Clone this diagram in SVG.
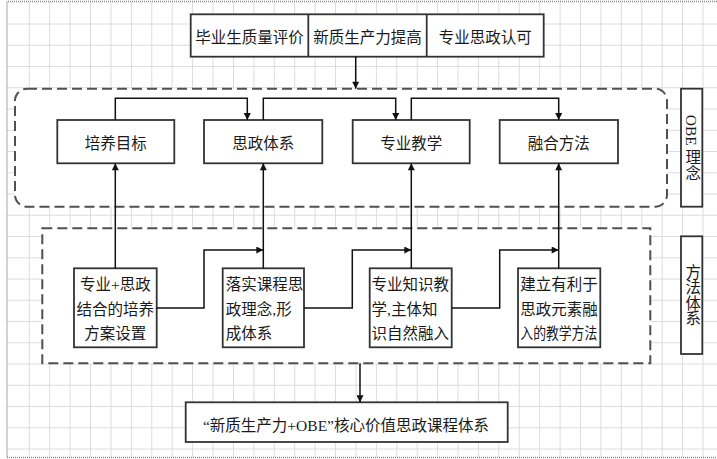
<svg xmlns="http://www.w3.org/2000/svg" width="717" height="459" viewBox="0 0 717 459">
<style>
  .grid { stroke: #dcdcdc; stroke-width: 1; fill: none; }
  .frame { stroke: #8a8a8a; stroke-width: 1.5; stroke-dasharray: 1 1; fill: none; }
  .box { fill: #fff; stroke: #333; stroke-width: 1.8; }
  .dash { fill: #fff; stroke: #505050; stroke-width: 2; stroke-dasharray: 10 5; }
  .conn { fill: none; stroke: #111; stroke-width: 1.5; }
  text { font-family: "Liberation Serif", "Noto Sans CJK SC", serif; font-size: 15.5px; fill: #1a1a1a; }
  .c { text-anchor: middle; }
  .v { writing-mode: vertical-rl; text-anchor: middle; dominant-baseline: central; }
</style>
<defs>
  <marker id="arr" viewBox="0 0 10 10" refX="10" refY="5" markerWidth="9" markerHeight="7" markerUnits="userSpaceOnUse" orient="auto">
    <path d="M0,0 L10,5 L0,10 Z" fill="#111"/>
  </marker>
</defs>
<rect x="0" y="0" width="717" height="459" fill="#fff"/>
<g id="grid">
  <path class="grid" d="M29.3 2V457M49.7 2V457M70.1 2V457M90.5 2V457M111 2V457M131.4 2V457M151.8 2V457M172.2 2V457M192.6 2V457M213 2V457M233.5 2V457M253.9 2V457M274.3 2V457M294.7 2V457M315.1 2V457M335.5 2V457M356 2V457M376.4 2V457M396.8 2V457M417.2 2V457M437.6 2V457M458 2V457M478.4 2V457M498.8 2V457M519.3 2V457M539.7 2V457M560.1 2V457M580.5 2V457M600.9 2V457M621.3 2V457M641.8 2V457M662.2 2V457M682.6 2V457M703 2V457"/>
  <path class="grid" d="M7 24H717M7 45.25H717M7 66.5H717M7 87.75H717M7 109H717M7 130.25H717M7 151.5H717M7 172.75H717M7 194H717M7 215.25H717M7 236.5H717M7 257.75H717M7 279H717M7 300.25H717M7 321.5H717M7 342.75H717M7 364H717M7 385.25H717M7 406.5H717M7 427.75H717M7 449H717"/>
  <path class="frame" d="M717 1.5H7V457.5H717"/>
</g>
<g id="obe-region">
  <rect class="dash" x="15" y="88.7" width="652" height="118" rx="12" ry="12"/>
</g>
<g id="method-region">
  <rect class="dash" x="42.3" y="228.3" width="608" height="135"/>
</g>
<g id="top-box">
  <rect class="box" x="190.7" y="14.3" width="353" height="42.4"/>
  <line class="box" x1="308.3" y1="14.3" x2="308.3" y2="56.7"/>
  <line class="box" x1="426.7" y1="14.3" x2="426.7" y2="56.7"/>
  <text class="c" x="249.5" y="43">毕业生质量评价</text>
  <text class="c" x="367.5" y="43">新质生产力提高</text>
  <text class="c" x="485.2" y="43">专业思政认可</text>
</g>
<g id="n-peiyang">
  <rect class="box" x="57.3" y="120" width="117" height="43.3"/>
  <text class="c" x="115.8" y="148.5">培养目标</text>
</g>
<g id="n-sizheng">
  <rect class="box" x="204" y="120" width="118.3" height="43.3"/>
  <text class="c" x="263.2" y="148.5">思政体系</text>
</g>
<g id="n-zhuanye">
  <rect class="box" x="352.7" y="120" width="117" height="43.3"/>
  <text class="c" x="411.2" y="148.5">专业教学</text>
</g>
<g id="n-ronghe">
  <rect class="box" x="499.7" y="120" width="118.3" height="43.3"/>
  <text class="c" x="558.8" y="148.5">融合方法</text>
</g>
<g id="m1">
  <rect class="box" x="74" y="268.3" width="82.7" height="79"/>
  <text class="c" x="115.3" y="290">专业+思政</text>
  <text class="c" x="115.3" y="314.5">结合的培养</text>
  <text class="c" x="115.3" y="338.5">方案设置</text>
</g>
<g id="m2">
  <rect class="box" x="222.7" y="268.3" width="81.3" height="79"/>
  <text x="225.8" y="290">落实课程思</text>
  <text x="225.8" y="314.5">政理念,形</text>
  <text x="225.8" y="338.5">成体系</text>
</g>
<g id="m3">
  <rect class="box" x="369.7" y="268.3" width="82" height="79"/>
  <text x="371.5" y="290">专业知识教</text>
  <text x="371.5" y="314.5">学,主体知</text>
  <text x="371.5" y="338.5">识自然融入</text>
</g>
<g id="m4">
  <rect class="box" x="518" y="268.3" width="82.3" height="79"/>
  <text x="520.3" y="290">建立有利于</text>
  <text x="520.3" y="314.5">思政元素融</text>
  <text x="520.3" y="338.5" textLength="77" lengthAdjust="spacingAndGlyphs">入的教学方法</text>
</g>
<g id="label-obe">
  <rect class="box" x="681" y="88.7" width="21.3" height="118"/>
  <text class="v" x="691.7" y="147.7">OBE 理念</text>
</g>
<g id="label-method">
  <rect class="box" x="681" y="236.3" width="21.3" height="117.7"/>
  <text class="v" x="691.7" y="295">方法体系</text>
</g>
<g id="result">
  <rect class="box" x="185.7" y="402.3" width="322" height="39.7"/>
  <text class="c" x="346" y="431">“新质生产力+OBE”核心价值思政课程体系</text>
</g>
<g id="connectors">
  <path class="conn" marker-end="url(#arr)" d="M355.7 56.7V88.7"/>
  <path class="conn" marker-end="url(#arr)" d="M115.3 120V98.3H247.3V120"/>
  <path class="conn" marker-end="url(#arr)" d="M263.3 120V98.3H395.7V120"/>
  <path class="conn" marker-end="url(#arr)" d="M411.3 120V98.3H558.7V120"/>
  <path class="conn" marker-end="url(#arr)" d="M115.3 268.3V163.3"/>
  <path class="conn" marker-end="url(#arr)" d="M263.3 268.3V163.3"/>
  <path class="conn" marker-end="url(#arr)" d="M411.3 268.3V163.3"/>
  <path class="conn" marker-end="url(#arr)" d="M558.7 268.3V163.3"/>
  <path class="conn" marker-end="url(#arr)" d="M156.7 308H204V250H263.3"/>
  <path class="conn" marker-end="url(#arr)" d="M304 308H352.3V250H411.3"/>
  <path class="conn" marker-end="url(#arr)" d="M451.7 308H499.7V250H558.7"/>
  <path class="conn" marker-end="url(#arr)" d="M360 363.3V402.3"/>
</g>
</svg>
